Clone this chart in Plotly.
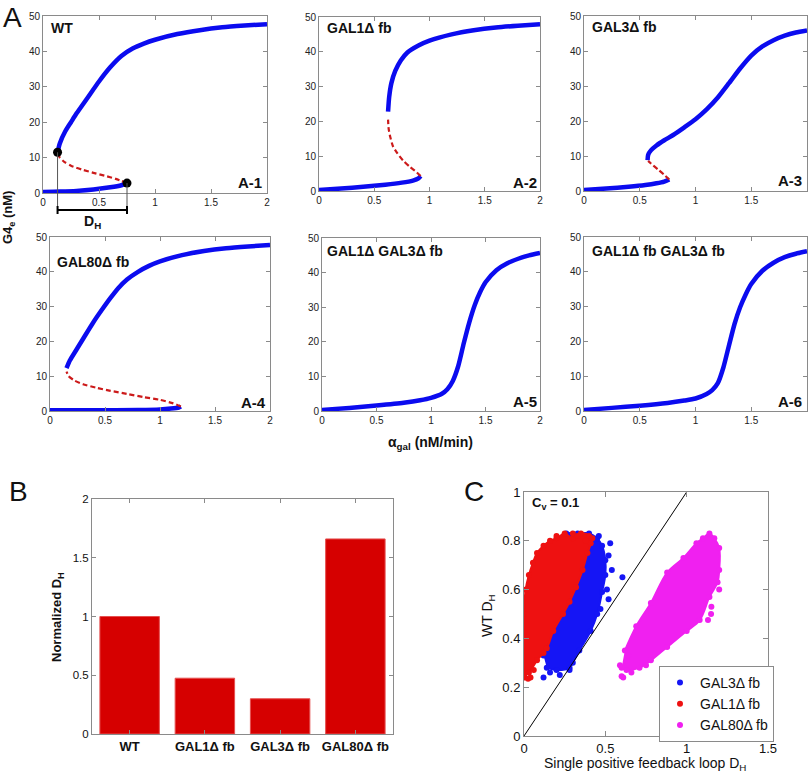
import plotly.graph_objects as go

W, H = 810, 775
FONT = "Liberation Sans, Arial, Helvetica, sans-serif"


def fx(p):
    return p / W


def fy(p):
    return 1 - p / H


# ---------------- Panel A : bifurcation diagrams (alpha_gal nM/min vs G4e nM)
WT_LOW_X = [0, 0.15, 0.3, 0.45, 0.6, 0.7, 0.75]
WT_LOW_Y = [0.3, 0.4, 0.6, 1.0, 1.6, 2.2, 2.8]
WT_UNST_X = [0.75, 0.65, 0.55, 0.45, 0.35, 0.25, 0.19, 0.15, 0.13]
WT_UNST_Y = [2.8, 4.0, 4.9, 5.7, 6.6, 7.7, 8.8, 10.0, 11.5]
WT_UP_X = [0.13, 0.15, 0.2, 0.25, 0.3, 0.4, 0.5, 0.6, 0.7, 0.8, 0.9, 1.0, 1.2, 1.4, 1.6, 1.8, 2.0]
WT_UP_Y = [11.5, 14, 17.5, 20, 22.5, 27, 31.5, 35.5, 38.7, 40.8, 42.2, 43.3, 44.9, 46, 46.8, 47.3, 47.7]
WT_FOLD_X = [0.13, 0.75]
WT_FOLD_Y = [11.5, 2.8]

G1_LOW_X = [0, 0.2, 0.4, 0.6, 0.75, 0.85, 0.9, 0.92]
G1_LOW_Y = [0.3, 0.7, 1.2, 1.8, 2.4, 3.0, 3.6, 4.3]
G1_UNST_X = [0.92, 0.88, 0.82, 0.76, 0.71, 0.67, 0.645, 0.63, 0.625]
G1_UNST_Y = [4.3, 5.5, 7.0, 8.8, 10.8, 12.8, 15.5, 18, 20.5]
G1_UP_X = [0.625, 0.635, 0.655, 0.69, 0.74, 0.8, 0.9, 1.0, 1.2, 1.4, 1.6, 1.8, 2.0]
G1_UP_Y = [22.8, 27, 31, 34.5, 37.5, 39.8, 41.8, 43.2, 45, 46.2, 47, 47.5, 47.9]

G3_LOW_X = [0, 0.2, 0.4, 0.55, 0.65, 0.72, 0.765]
G3_LOW_Y = [0.3, 0.7, 1.2, 1.7, 2.2, 2.7, 3.3]
G3_UNST_X = [0.765, 0.72, 0.67, 0.62, 0.575]
G3_UNST_Y = [3.3, 4.6, 6.0, 7.3, 8.6]
G3_UP_X = [0.57, 0.575, 0.6, 0.65, 0.72, 0.8, 0.9, 1.0, 1.1, 1.2, 1.3, 1.4, 1.5, 1.6, 1.7, 1.8, 1.9, 2.0]
G3_UP_Y = [8.8, 10.3, 11.6, 13, 14.5, 16, 18.2, 20.5, 23.3, 26.7, 30.8, 35, 38.7, 41.3, 43.1, 44.4, 45.3, 45.9]

G80_LOW_X = [0, 0.4, 0.8, 1.0, 1.1, 1.17, 1.19]
G80_LOW_Y = [0.2, 0.2, 0.3, 0.45, 0.7, 1.0, 1.3]
G80_UNST_X = [1.19, 1.12, 1.0, 0.85, 0.7, 0.55, 0.42, 0.3, 0.22, 0.17, 0.15]
G80_UNST_Y = [1.3, 2.2, 3.2, 4.0, 4.9, 5.8, 6.7, 7.7, 8.8, 10.0, 11.3]
G80_UP_X = [0.15, 0.18, 0.24, 0.3, 0.39, 0.47, 0.55, 0.62, 0.7, 0.8, 0.9, 1.0, 1.2, 1.4, 1.6, 1.8, 2.0]
G80_UP_Y = [12.3, 14.5, 17.6, 20.7, 25.3, 29, 32.5, 35.3, 37.8, 40, 41.7, 43, 44.8, 46, 46.8, 47.3, 47.7]

G13_X = [0, 0.25, 0.5, 0.75, 0.9, 1.0, 1.1, 1.15, 1.2, 1.25, 1.3, 1.35, 1.4, 1.45, 1.5, 1.6, 1.7, 1.8, 1.9, 2.0]
G13_Y = [0.3, 0.9, 1.6, 2.4, 3.1, 3.8, 5.0, 6.3, 8.7, 13.0, 19.5, 25.5, 30.5, 34.3, 37.2, 40.7, 42.7, 44.0, 45.0, 45.7]
G1FB3_X = [0, 0.25, 0.5, 0.75, 0.9, 1.0, 1.1, 1.15, 1.2, 1.25, 1.3, 1.35, 1.4, 1.45, 1.5, 1.6, 1.7, 1.8, 1.9, 2.0]
G1FB3_Y = [0.3, 0.9, 1.5, 2.3, 3.0, 3.6, 4.9, 6.0, 8.0, 12.5, 18.8, 25.0, 29.8, 33.5, 36.5, 40.3, 42.6, 44.2, 45.2, 45.9]

A_TITLES = ["WT", "GAL1Δ fb", "GAL3Δ fb", "GAL80Δ fb", "GAL1Δ GAL3Δ fb", "GAL1Δ fb GAL3Δ fb"]
A_TAGS = ["A-1", "A-2", "A-3", "A-4", "A-5", "A-6"]
A_XTICKS = [0, 0.5, 1, 1.5, 2]
A_XLABELS = ["0", "0.5", "1", "1.5", "2"]
A_YTICKS = [0, 10, 20, 30, 40, 50]

# ---------------- Panel B : normalized hysteresis width
B_CATS = ["WT", "GAL1Δ fb", "GAL3Δ fb", "GAL80Δ fb"]
B_VALS = [1.0, 0.475, 0.30, 1.66]
B_YTICKS = [0, 0.5, 1, 1.5, 2]
B_YLABELS = ["0", "0.5", "1", "1.5", "2"]

# ---------------- Panel C : WT D_H vs single loop D_H (cloud outlines + scattered points)
C_G3_OUT_X = [0.14, 0.20, 0.28, 0.30, 0.34, 0.41, 0.45, 0.48, 0.50, 0.50, 0.48, 0.45, 0.40, 0.33, 0.26, 0.20, 0.12, 0.10, 0.12]
C_G3_OUT_Y = [0.28, 0.27, 0.28, 0.30, 0.35, 0.43, 0.50, 0.59, 0.66, 0.72, 0.78, 0.81, 0.83, 0.83, 0.83, 0.80, 0.60, 0.40, 0.33]
C_G3_PTS_X = [0.54, 0.53, 0.52, 0.605, 0.12, 0.51, 0.47, 0.16, 0.22, 0.52, 0.28, 0.46]
C_G3_PTS_Y = [0.68, 0.79, 0.74, 0.651, 0.24, 0.60, 0.52, 0.26, 0.25, 0.56, 0.27, 0.82]
C_G1_OUT_X = [0, 0.03, 0.08, 0.14, 0.18, 0.24, 0.28, 0.32, 0.36, 0.39, 0.41, 0.40, 0.35, 0.30, 0.25, 0.20, 0.16, 0.12, 0.08, 0.055, 0.03, 0.01, 0]
C_G1_OUT_Y = [0.25, 0.26, 0.31, 0.36, 0.43, 0.50, 0.55, 0.61, 0.68, 0.75, 0.79, 0.82, 0.83, 0.81, 0.83, 0.81, 0.80, 0.78, 0.75, 0.71, 0.66, 0.60, 0.50]
C_G1_PTS_X = [0.005, 0.025, 0.3, 0.2, 0.33, 0.12, 0.04, 0.38, 0.42, 0.06]
C_G1_PTS_Y = [0.24, 0.235, 0.83, 0.82, 0.82, 0.34, 0.24, 0.80, 0.81, 0.27]
C_G80_OUT_X = [0.60, 0.63, 0.71, 0.78, 0.88, 1.00, 1.08, 1.14, 1.19, 1.20, 1.20, 1.17, 1.14, 1.10, 1.06, 0.98, 0.88, 0.78, 0.69, 0.62]
C_G80_OUT_Y = [0.28, 0.27, 0.28, 0.31, 0.365, 0.43, 0.475, 0.57, 0.63, 0.68, 0.77, 0.81, 0.83, 0.81, 0.79, 0.73, 0.67, 0.545, 0.45, 0.35]
C_G80_PTS_X = [0.59, 0.61, 0.60, 1.131, 1.152, 0.64, 0.66, 1.20, 1.15, 0.75]
C_G80_PTS_Y = [0.29, 0.24, 0.245, 0.475, 0.53, 0.33, 0.26, 0.60, 0.50, 0.29]
C_DIAG_X = [0, 1]
C_DIAG_Y = [0, 1]
C_XTICKS = [0, 0.5, 1, 1.5]
C_XLABELS = ["0", "0.5", "1", "1.5"]
C_YTICKS = [0, 0.2, 0.4, 0.6, 0.8, 1]
C_YLABELS = ["0", "0.2", "0.4", "0.6", "0.8", "1"]

# ---------------- layout geometry (pixels: left, right, top, bottom)
PANELS = {
    "": (43, 267, 16, 193),
    "2": (319, 540, 17, 191),
    "3": (584, 807, 16, 191),
    "4": (50, 270, 237, 411),
    "5": (322, 540, 238, 411),
    "6": (584, 807, 237, 411),
    "7": (92, 393, 499, 734),
    "8": (524, 768, 492, 736),
}

BLUE = "#0b0bef"
RED_D = "#cc1a1a"
AXC = "#8a8a8a"

fig = go.Figure()


def branch(x, y, ax, stable=True):
    if stable:
        line = dict(color=BLUE, width=4.5, shape="spline", smoothing=0.6)
    else:
        line = dict(color=RED_D, width=2.2, dash="5px,3px", shape="spline", smoothing=0.6)
    fig.add_trace(go.Scatter(x=x, y=y, mode="lines", line=line, xaxis="x" + ax,
                             yaxis="y" + ax, showlegend=False, hoverinfo="skip"))


branch(WT_LOW_X, WT_LOW_Y, "")
branch(WT_UNST_X, WT_UNST_Y, "", False)
branch(WT_UP_X, WT_UP_Y, "")
fig.add_trace(go.Scatter(x=WT_FOLD_X, y=WT_FOLD_Y, mode="markers", cliponaxis=False,
                         marker=dict(color="black", size=9), xaxis="x", yaxis="y",
                         showlegend=False, hoverinfo="skip"))
branch(G1_LOW_X, G1_LOW_Y, "2")
branch(G1_UNST_X, G1_UNST_Y, "2", False)
branch(G1_UP_X, G1_UP_Y, "2")
branch(G3_LOW_X, G3_LOW_Y, "3")
branch(G3_UNST_X, G3_UNST_Y, "3", False)
branch(G3_UP_X, G3_UP_Y, "3")
branch(G80_LOW_X, G80_LOW_Y, "4")
branch(G80_UNST_X, G80_UNST_Y, "4", False)
branch(G80_UP_X, G80_UP_Y, "4")
branch(G13_X, G13_Y, "5")
branch(G1FB3_X, G1FB3_Y, "6")

# Panel B
fig.add_trace(go.Bar(x=list(range(len(B_CATS))), y=B_VALS, width=0.79,
                     marker=dict(color="#d60000", line=dict(color="#e65050", width=1)),
                     xaxis="x7", yaxis="y7", showlegend=False, hoverinfo="skip"))

# Panel C
SC_BLUE = "#1515f5"
SC_RED = "#ee1111"
SC_MAG = "#f020f0"


def cloud(xo, yo, xp, yp, color, name):
    fig.add_trace(go.Scatter(x=xo, y=yo, mode="lines+markers", fill="toself", fillcolor=color,
                             line=dict(color=color, width=2, shape="spline"),
                             marker=dict(color=color, size=6), xaxis="x8", yaxis="y8",
                             showlegend=False, hoverinfo="skip"))
    fig.add_trace(go.Scatter(x=xp, y=yp, mode="markers", name=name,
                             marker=dict(color=color, size=6), xaxis="x8", yaxis="y8",
                             hoverinfo="skip"))


cloud(C_G3_OUT_X, C_G3_OUT_Y, C_G3_PTS_X, C_G3_PTS_Y, SC_BLUE, "GAL3Δ fb")
cloud(C_G1_OUT_X, C_G1_OUT_Y, C_G1_PTS_X, C_G1_PTS_Y, SC_RED, "GAL1Δ fb")
cloud(C_G80_OUT_X, C_G80_OUT_Y, C_G80_PTS_X, C_G80_PTS_Y, SC_MAG, "GAL80Δ fb")
fig.add_trace(go.Scatter(x=C_DIAG_X, y=C_DIAG_Y, mode="lines", line=dict(color="black", width=1),
                         xaxis="x8", yaxis="y8", showlegend=False, hoverinfo="skip"))

layout = dict(
    width=W, height=H, margin=dict(l=0, r=0, t=0, b=0, pad=0), autosize=False,
    paper_bgcolor="white", plot_bgcolor="white",
    font=dict(family=FONT, color="#111"), showlegend=True,
    legend=dict(x=fx(659), y=fy(666), xanchor="left", yanchor="top",
                bordercolor=AXC, borderwidth=1, bgcolor="white",
                font=dict(size=14, family=FONT, color="#111"), tracegroupgap=0),
)


def axis_style(fsize):
    return dict(showline=True, mirror="ticks", linecolor=AXC, linewidth=1, ticks="inside",
                ticklen=4, tickcolor=AXC, showgrid=False, zeroline=False, automargin=False,
                tickfont=dict(size=fsize, color="#222", family=FONT))


for k, (l, r, t, b) in PANELS.items():
    xa = axis_style(10)
    ya = axis_style(10)
    xa.update(domain=[fx(l), fx(r)], anchor="y" + k)
    ya.update(domain=[fy(b), fy(t)], anchor="x" + k)
    if k in ("", "2", "3", "4", "5", "6"):
        xa.update(range=[0, 2], tickvals=A_XTICKS, ticktext=A_XLABELS)
        ya.update(range=[0, 50], tickvals=A_YTICKS)
    elif k == "7":
        xa.update(range=[-0.5, 3.5], tickvals=list(range(len(B_CATS))),
                  ticktext=["<b>%s</b>" % c for c in B_CATS],
                  tickfont=dict(size=13, color="#111", family=FONT))
        ya.update(range=[0, 2], tickvals=B_YTICKS, ticktext=B_YLABELS,
                  tickfont=dict(size=11.5, color="#111", family=FONT))
    else:
        xa.update(range=[0, 1.5], tickvals=C_XTICKS, ticktext=C_XLABELS,
                  tickfont=dict(size=13, color="#111", family=FONT), ticklen=5)
        ya.update(range=[0, 1], tickvals=C_YTICKS, ticktext=C_YLABELS,
                  tickfont=dict(size=13, color="#111", family=FONT), ticklen=5)
    layout["xaxis" + k] = xa
    layout["yaxis" + k] = ya

ann = []


def text(x, y, s, size, xa="center", ya="middle", angle=0, bold=False):
    ann.append(dict(x=fx(x), y=fy(y), xref="paper", yref="paper", text=("<b>%s</b>" % s) if bold else s,
                    showarrow=False, xanchor=xa, yanchor=ya, textangle=angle,
                    font=dict(size=size, family=FONT, color="#111")))


# panel letters
text(12, 17, "A", 28)
text(18, 491, "B", 28)
text(474, 491, "C", 28)

# subplot titles and tags
title_pos = [(49, 28), (325, 28), (590, 27), (55, 262), (325, 251), (590, 251)]
tag_pos = [(264, 182), (539, 182), (804, 180), (268, 402), (539, 401), (804, 401)]
for (tx, ty), s in zip(title_pos, A_TITLES):
    text(tx, ty, s, 14, xa="left", bold=True)
for (tx, ty), s in zip(tag_pos, A_TAGS):
    text(tx, ty, s, 15, xa="right", bold=True)

# axis titles
text(9, 218, "G4<sub>e</sub> (nM)", 13, angle=-90, bold=True)
text(430, 443, "α<sub>gal</sub> (nM/min)", 14, bold=True)
text(57, 617, "Normalized D<sub>H</sub>", 13, angle=-90, bold=True)
text(488, 616, "WT D<sub>H</sub>", 14, angle=-90)
text(645, 764, "Single positive feedback loop D<sub>H</sub>", 14)
text(530, 503, "C<sub>v</sub> = 0.1", 13, xa="left", bold=True)
text(92, 222, "D<sub>H</sub>", 14, bold=True)

layout["annotations"] = ann

# D_H bracket on A-1
l1, r1, t1, b1 = PANELS[""]


def a1y(v):
    return fy(b1 - v / 50 * (b1 - t1))


shapes = []
for xv, yv in zip(WT_FOLD_X, WT_FOLD_Y):
    shapes.append(dict(type="line", xref="x", yref="paper", x0=xv, x1=xv, y0=a1y(yv), y1=fy(210),
                       line=dict(color="#555", width=1)))
    shapes.append(dict(type="line", xref="x", yref="paper", x0=xv, x1=xv, y0=fy(206), y1=fy(214),
                       line=dict(color="black", width=2)))
shapes.append(dict(type="line", xref="x", yref="paper", x0=WT_FOLD_X[0], x1=WT_FOLD_X[1],
                   y0=fy(210), y1=fy(210), line=dict(color="black", width=2)))
layout["shapes"] = shapes

fig.update_layout(**layout)
fig.write_html("out.html", config={"displayModeBar": False},
               post_script="document.body.style.margin='0';document.body.style.overflow='hidden';")
